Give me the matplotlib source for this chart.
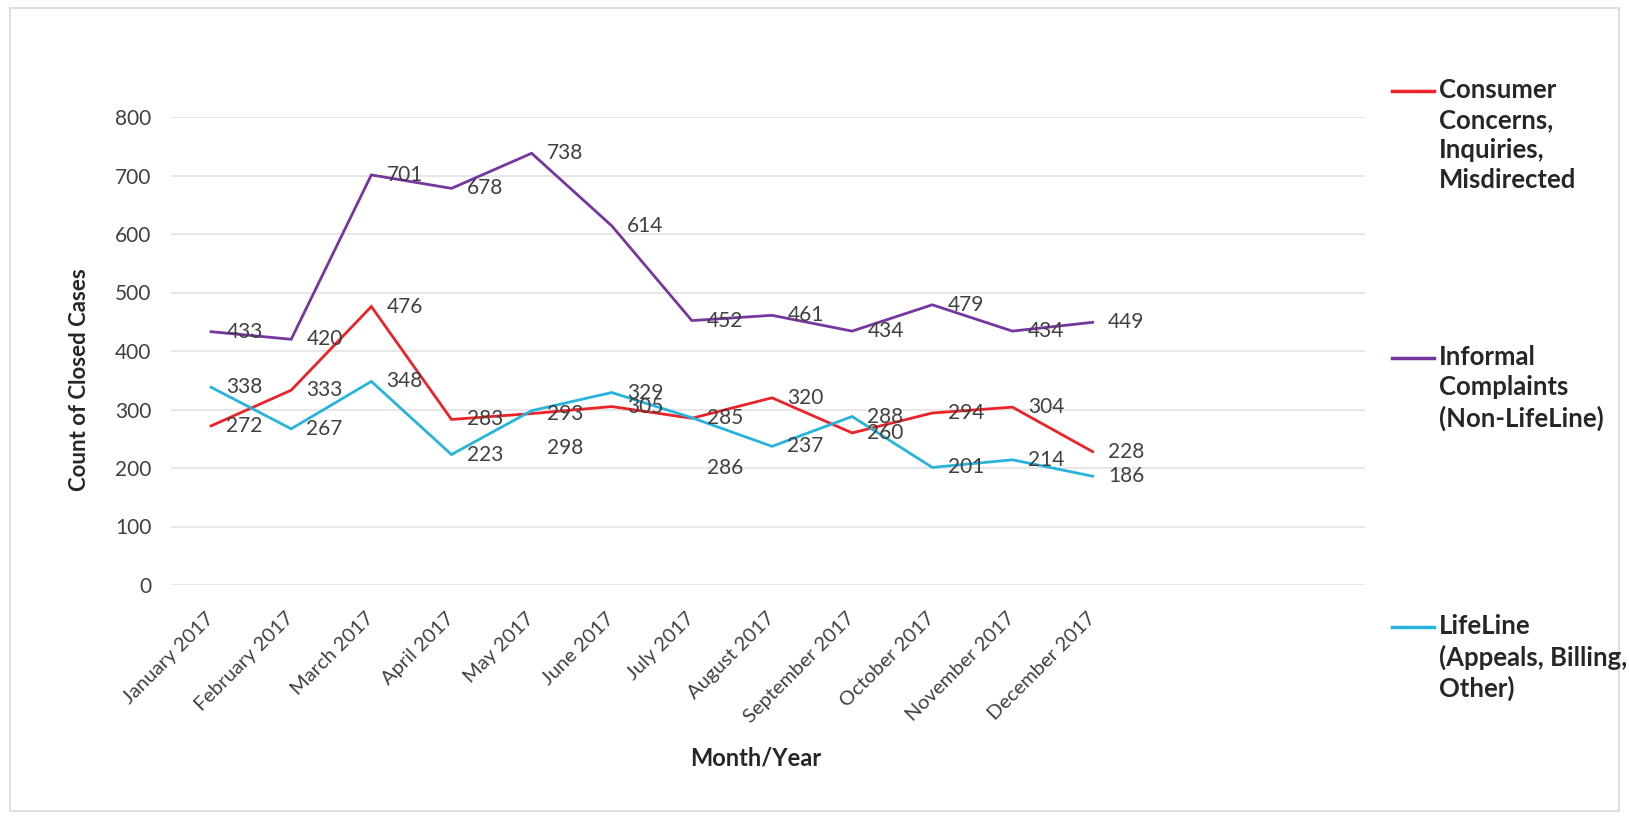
import matplotlib

matplotlib.use("Agg")
import matplotlib.pyplot as plt
from matplotlib.lines import Line2D
from matplotlib.patches import Rectangle

plt.rcParams["font.family"] = ["Lato", "DejaVu Sans"]

months = ["January 2017", "February 2017", "March 2017", "April 2017",
          "May 2017", "June 2017", "July 2017", "August 2017",
          "September 2017", "October 2017", "November 2017", "December 2017"]

consumer = [272, 333, 476, 283, 293, 305, 285, 320, 260, 294, 304, 228]
informal = [433, 420, 701, 678, 738, 614, 452, 461, 434, 479, 434, 449]
lifeline = [338, 267, 348, 223, 298, 329, 286, 237, 288, 201, 214, 186]

series = [
    ("Consumer\nConcerns,\nInquiries,\nMisdirected", consumer, "#EB2329"),
    ("Informal\nComplaints\n(Non-LifeLine)", informal, "#7636A0"),
    ("LifeLine\n(Appeals, Billing,\nOther)", lifeline, "#27B4DC"),
]

# a couple of data labels were dragged below their points
label_shift = {("lifeline", 4): -27, ("lifeline", 6): -36}
keys = ["consumer", "informal", "lifeline"]

W, H = 1629, 819
fig = plt.figure(figsize=(W / 100, H / 100), dpi=100)
ax = fig.add_axes([171 / W, 1 - 585 / H, (1365 - 171) / W, (585 - 117) / H])

x = list(range(len(months)))
for key, (name, vals, color) in zip(keys, series):
    ax.plot(x, vals, color=color, lw=2.0, solid_joinstyle="miter", zorder=3)
    for i, v in enumerate(vals):
        dy = label_shift.get((key, i), 0)
        ax.annotate(str(v), (i, v), xytext=(11, dy), textcoords="offset points",
                    ha="left", va="center", fontsize=15, color="#404040",
                    zorder=4)

ax.set_xlim(-0.5, 14.4)
ax.set_ylim(0, 800)
ax.set_yticks(range(0, 801, 100))
ax.grid(axis="y", color="#E3E3E3", lw=1.2)
ax.set_axisbelow(True)
for s in ax.spines.values():
    s.set_visible(False)
ax.tick_params(axis="both", length=0, labelsize=15, labelcolor="#404040")
ax.tick_params(axis="y", pad=14)
ax.set_xticks(x)
ax.set_xticklabels(months, rotation=45, ha="right", va="center",
                   rotation_mode="anchor", fontsize=14.5)
ax.tick_params(axis="x", pad=22)

fig.text(756 / W, 1 - 758 / H, "Month/Year", ha="center", va="center",
         fontsize=17, fontweight="bold", color="#262626")
fig.text(80 / W, 1 - 380 / H, "Count of Closed Cases", ha="center",
         va="center", rotation=90, fontsize=16, fontweight="bold",
         color="#262626")

# legend entries down the right side, handle level with the first text line
for (name, vals, color), ymid in zip(series, [91, 358, 627]):
    fig.add_artist(Line2D([1392 / W, 1434 / W], [1 - ymid / H] * 2,
                          color=color, lw=2.5))
    fig.text(1439 / W, 1 - (ymid - 13) / H, name, ha="left", va="top",
             fontsize=18.5, fontweight="bold", color="#262626",
             linespacing=1.3)

fig.add_artist(Rectangle((10 / W, 8 / H), (W - 20) / W, (H - 16) / H,
                         transform=fig.transFigure, fill=False,
                         ec="#D9D9D9", lw=1.2))

fig.savefig("out.png", dpi=100)
plt.close(fig)
